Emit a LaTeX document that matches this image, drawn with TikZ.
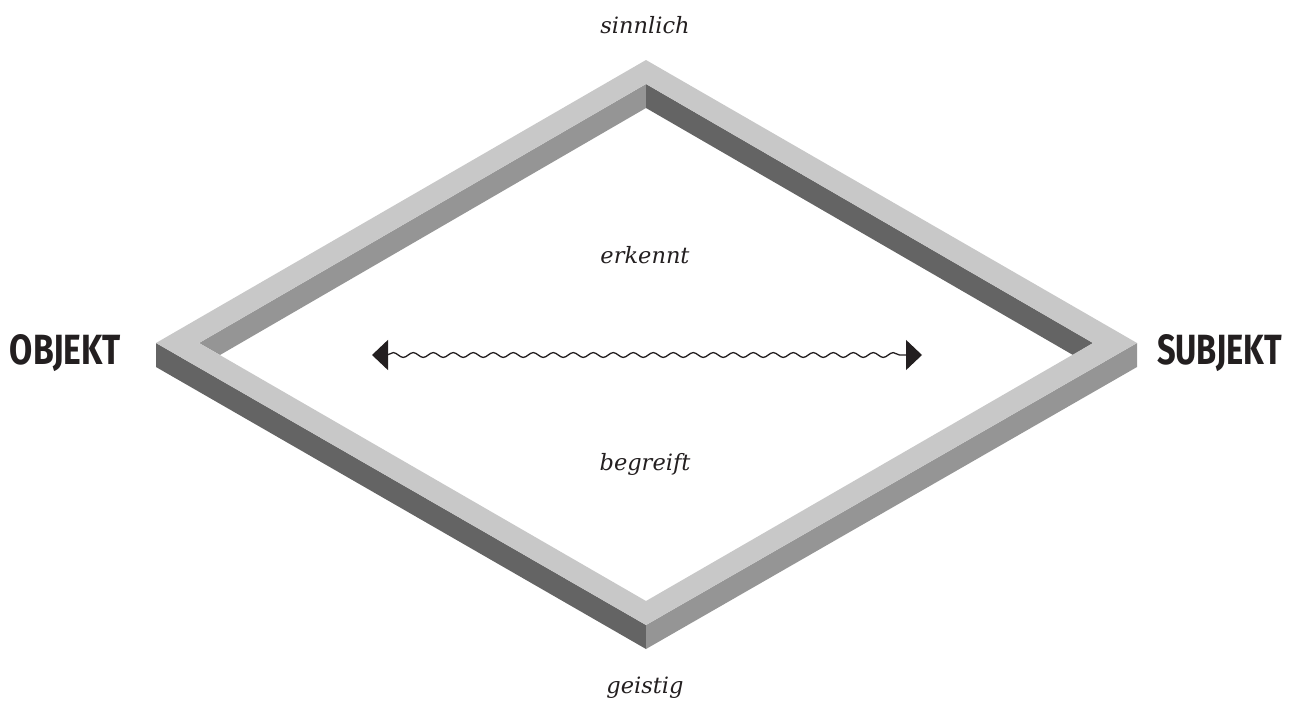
\documentclass[tikz,border=0pt]{standalone}
\usepackage{fontspec}
\newfontfamily\labelfont{Fira Sans}
\newfontfamily\polefont{DejaVu Serif}
\usetikzlibrary{arrows.meta,decorations.pathmorphing}
\definecolor{topface}{HTML}{C8C8C8}
\definecolor{midwall}{HTML}{959595}
\definecolor{darkwall}{HTML}{646464}
\definecolor{ink}{HTML}{231F20}
\tikzset{
  pole/.style={text=ink, font=\polefont\fontsize{22.5}{26}\selectfont\itshape, inner sep=0pt, anchor=base},
  bigword/.style={text=ink, inner sep=0pt},
  wave/.style={draw=ink, line width=1.3pt, decorate,
    decoration={snake, amplitude=2.4pt, segment length=20pt, pre length=15pt, post length=15pt}},
}
\begin{document}
\begin{tikzpicture}[x=1pt,y=-1pt]
\useasboundingbox (0,0) rectangle (1296,707);
% outer walls
\fill[darkwall] (156,343) -- (646,625) -- (646,649) -- (156,367) -- cycle;
\fill[midwall] (646,625) -- (1137,343) -- (1137,367) -- (646,649) -- cycle;
% inner walls
\fill[midwall] (199,343) -- (646,84) -- (646,108) -- (220,355) -- cycle;
\fill[darkwall] (646,84) -- (1093,343) -- (1073,355) -- (646,108) -- cycle;
% top face
\fill[topface, even odd rule] (646,60) -- (1137,343) -- (646,625) -- (156,343) -- cycle
  (646,84) -- (1093,343) -- (646,601) -- (199,343) -- cycle;
% labels
\node[pole] (sinnlich) at (645,33) {sinnlich};
\node[pole] (erkennt) at (645,263) {erkennt};
\node[pole] (begreift) at (645,470) {begreift};
\node[pole] (geistig) at (645,693) {geistig};
\node[bigword] (objekt) at (65.5,353) {\resizebox{111pt}{30pt}{\labelfont\bfseries OBJEKT}};
\node[bigword] (subjekt) at (1219.5,353) {\resizebox{125pt}{30pt}{\labelfont\bfseries SUBJEKT}};
% wavy double arrow
\coordinate (wl) at (372,355);
\coordinate (wr) at (922,355);
\draw[wave, {Triangle[length=16pt,width=30pt]}-{Triangle[length=16pt,width=30pt]}] (wl) -- (wr);
\end{tikzpicture}
\end{document}
